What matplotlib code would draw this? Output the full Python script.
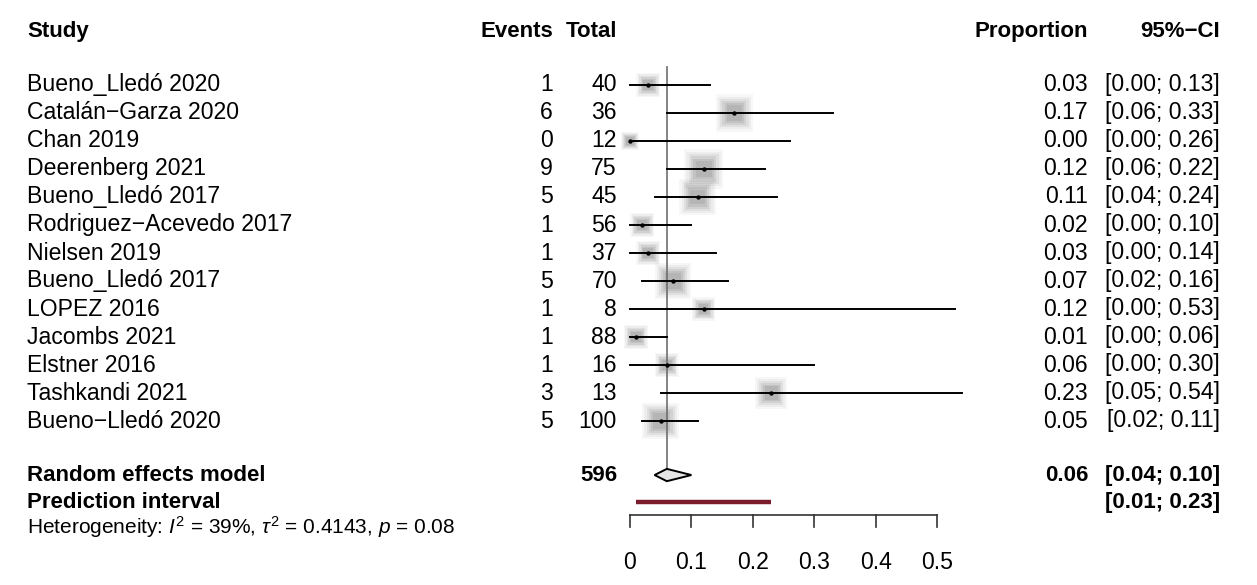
import matplotlib
matplotlib.use("Agg")
import matplotlib.pyplot as plt
from matplotlib import transforms
from matplotlib.patches import Polygon
import numpy as np

plt.rcParams["font.family"] = ["Liberation Sans", "DejaVu Sans"]
plt.rcParams["mathtext.fontset"] = "custom"
plt.rcParams["mathtext.rm"] = "Liberation Sans"
plt.rcParams["mathtext.it"] = "Liberation Sans:italic"
plt.rcParams["mathtext.bf"] = "Liberation Sans:bold"

# ---- study data -------------------------------------------------------
studies = [
    "Bueno_Lledó 2020", "Catalán\u2212Garza 2020", "Chan 2019", "Deerenberg 2021",
    "Bueno_Lledó 2017", "Rodriguez\u2212Acevedo 2017", "Nielsen 2019",
    "Bueno_Lledó 2017", "LOPEZ 2016", "Jacombs 2021", "Elstner 2016",
    "Tashkandi 2021", "Bueno\u2212Lledó 2020",
]
events = [1, 6, 0, 9, 5, 1, 1, 5, 1, 1, 1, 3, 5]
totals = [40, 36, 12, 75, 45, 56, 37, 70, 8, 88, 16, 13, 100]
proportion = [0.03, 0.17, 0.00, 0.12, 0.11, 0.02, 0.03, 0.07, 0.12, 0.01, 0.06, 0.23, 0.05]
ci_lower = [0.00, 0.06, 0.00, 0.06, 0.04, 0.00, 0.00, 0.02, 0.00, 0.00, 0.00, 0.05, 0.02]
ci_upper = [0.13, 0.33, 0.26, 0.22, 0.24, 0.10, 0.14, 0.16, 0.53, 0.06, 0.30, 0.54, 0.11]
weights = [4.9, 11.7, 2.9, 13.3, 11.2, 5.0, 4.9, 11.5, 4.6, 5.0, 4.9, 8.5, 11.5]

# pooled estimate and prediction interval
re_est, re_lower, re_upper = 0.06, 0.04, 0.10
pi_lower, pi_upper = 0.01, 0.23
total_n = 596
heterogeneity = r"Heterogeneity: $I^2$ = 39%, $\tau^2$ = 0.4143, $p$ = 0.08"
x_ticks = [0, 0.1, 0.2, 0.3, 0.4, 0.5]
x_ticklabels = ["0", "0.1", "0.2", "0.3", "0.4", "0.5"]

# ---- figure ------------------------------------------------------------
W, H = 1257, 585
fig = plt.figure(figsize=(W / 100, H / 100), dpi=100)
ax = fig.add_axes([0, 0, 1, 1])
ax.set_axis_off()

# data x: proportion scale; data y: row index (top to bottom)
px0, ppu = 630.0, 614.0        # pixel of 0 and pixels per unit
ry0, rpx = 85.0, 28.0          # pixel of first row and row height
ax.set_xlim((0 - px0) / ppu, (W - px0) / ppu)
ax.set_ylim((H - ry0) / rpx, (0 - ry0) / rpx)

tr = transforms.blended_transform_factory(fig.transFigure, ax.transData)
def fx(p):
    return p / W

FS = 16.6
FSB = 16.0
row_re = 13.93
row_pi = 14.9
row_het = 15.8
row_head = -1.9
row_axis = 15.35
row_ticklab = 17.05

# headers
ax.text(fx(27), row_head, "Study", transform=tr, ha="left", va="center",
        fontsize=FSB, fontweight="bold")
ax.text(fx(553), row_head, "Events", transform=tr, ha="right", va="center",
        fontsize=FSB, fontweight="bold")
ax.text(fx(617), row_head, "Total", transform=tr, ha="right", va="center",
        fontsize=FSB, fontweight="bold")
ax.text(fx(1088), row_head, "Proportion", transform=tr, ha="right", va="center",
        fontsize=FSB, fontweight="bold")
ax.text(fx(1220), row_head, "95%\u2212CI", transform=tr, ha="right", va="center",
        fontsize=FSB, fontweight="bold")

# reference line at the pooled estimate
ax.plot([re_est, re_est], [-0.65, row_re - 0.22], color="#7a7a7a", lw=1.3, zorder=1)

rows = np.arange(len(studies))
for i in rows:
    ax.text(fx(27), i, studies[i], transform=tr, ha="left", va="center", fontsize=FS)
    ax.text(fx(553), i, f"{events[i]}", transform=tr, ha="right", va="center", fontsize=FS)
    ax.text(fx(617), i, f"{totals[i]}", transform=tr, ha="right", va="center", fontsize=FS)
    ax.text(fx(1088), i, f"{proportion[i]:.2f}", transform=tr, ha="right", va="center",
            fontsize=FS)
    ax.text(fx(1220), i, f"[{ci_lower[i]:.2f}; {ci_upper[i]:.2f}]", transform=tr,
            ha="right", va="center", fontsize=FS)
    ax.plot([ci_lower[i], ci_upper[i]], [i, i], color="black", lw=1.4, zorder=3)

# weighted squares with a soft grey halo
side_pt = 4.6 * np.sqrt(np.array(weights))
for scale, alpha in [(1.7, 0.05), (1.5, 0.07), (1.3, 0.10), (1.1, 0.13),
                     (0.9, 0.15), (0.7, 0.15)]:
    ax.scatter(proportion, rows, s=(side_pt * scale) ** 2, marker="s",
               color="#707070", alpha=alpha, linewidths=0, zorder=2)
ax.scatter(proportion, rows, s=10, marker="o", color="black", zorder=4, linewidths=0)

# random effects model
ax.text(fx(27), row_re, "Random effects model", transform=tr, ha="left", va="center",
        fontsize=FSB, fontweight="bold")
ax.text(fx(617), row_re, f"{total_n}", transform=tr, ha="right", va="center",
        fontsize=FSB, fontweight="bold")
ax.text(fx(1088), row_re, f"{re_est:.2f}", transform=tr, ha="right", va="center",
        fontsize=FSB, fontweight="bold")
ax.text(fx(1220), row_re, f"[{re_lower:.2f}; {re_upper:.2f}]", transform=tr,
        ha="right", va="center", fontsize=FSB, fontweight="bold")
dh = 0.22
ax.add_patch(Polygon([[re_lower, row_re], [re_est, row_re - dh], [re_upper, row_re],
                      [re_est, row_re + dh]], closed=True, facecolor="#e6e6e6",
                     edgecolor="black", lw=1.4, zorder=3))

# prediction interval
ax.text(fx(27), row_pi, "Prediction interval", transform=tr, ha="left", va="center",
        fontsize=FSB, fontweight="bold")
ax.text(fx(1220), row_pi, f"[{pi_lower:.2f}; {pi_upper:.2f}]", transform=tr,
        ha="right", va="center", fontsize=FSB, fontweight="bold")
ax.plot([pi_lower, pi_upper], [row_pi, row_pi], color="#7b1c2c", lw=3.2,
        solid_capstyle="butt", zorder=3)

# heterogeneity
ax.text(fx(27), row_het, heterogeneity, transform=tr, ha="left", va="center", fontsize=15.0)

# x axis
ax.plot([x_ticks[0], x_ticks[-1]], [row_axis, row_axis], color="#333333", lw=1.2)
for t, lab in zip(x_ticks, x_ticklabels):
    ax.plot([t, t], [row_axis, row_axis + 0.45], color="#333333", lw=1.2)
    ax.text(t, row_ticklab, lab, ha="center", va="center", fontsize=FS)

fig.savefig("out.png", dpi=100, facecolor="white")
